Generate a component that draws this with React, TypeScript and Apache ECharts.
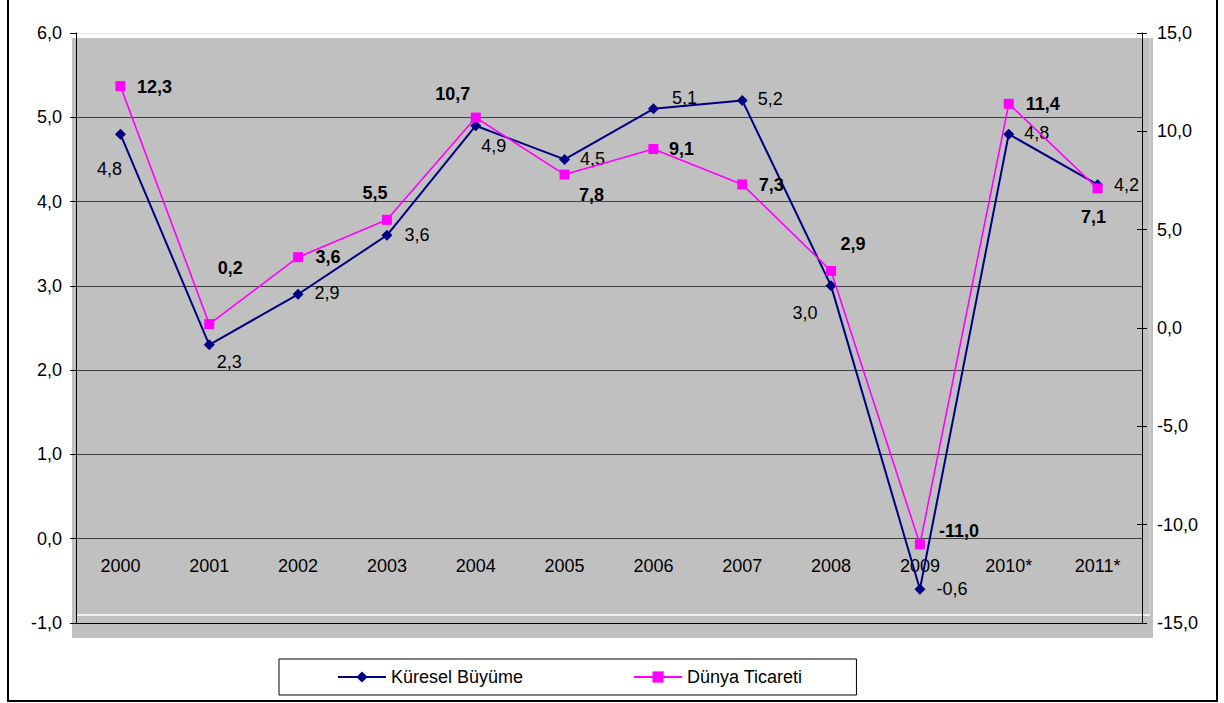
import React, { useEffect, useRef } from "react";
import * as echarts from "echarts";

const categories = ["2000", "2001", "2002", "2003", "2004", "2005", "2006", "2007", "2008", "2009", "2010*", "2011*"];
const kureselBuyume = [4.8, 2.3, 2.9, 3.6, 4.9, 4.5, 5.1, 5.2, 3.0, -0.6, 4.8, 4.2];
const dunyaTicareti = [12.3, 0.2, 3.6, 5.5, 10.7, 7.8, 9.1, 7.3, 2.9, -11.0, 11.4, 7.1];
const seriesNames = ["Küresel Büyüme", "Dünya Ticareti"];
const leftAxisRange = [-1, 6, 1];
const rightAxisRange = [-15, 15, 5];

// label placement (pixel offsets from the marker centre)
const kureselLabelOffsets = [[-11, 35], [20, 17], [29, -1], [30, 0], [18, 20], [28, 0], [31, -11], [28, -1], [-26, 27], [32, 0], [28, -1], [29, 0]];
const dunyaLabelOffsets = [[34, 1], [21, -56], [30, 0], [-12, -27], [-23, -24], [27, 20], [28, 0], [29, 1], [22, -27], [39, -13], [34, 0], [-4, 29]];

const FONT = "'Liberation Sans', Arial, sans-serif";
const fmt = (v: number) => v.toFixed(1).replace(".", ",");

const GRID_TOP = 33;
const GRID_BOTTOM = 80;
const CHART_H = 703;

export default function App() {
  const ref = useRef<HTMLDivElement>(null);
  useEffect(() => {
    if (!ref.current) return;
    const chart = echarts.init(ref.current, undefined, { renderer: "svg" });
    const gridColors = ["#000000", "#404040", "#404040", "#404040", "#404040", "#404040", "#404040", "#e6e6e6"];
    // place the category axis at the zero line of the left axis
    const plotH = CHART_H - GRID_TOP - GRID_BOTTOM;
    const zeroOffset = -((0 - leftAxisRange[0]) / (leftAxisRange[1] - leftAxisRange[0])) * plotH;
    const option: any = {
      animation: false,
      backgroundColor: "#ffffff",
      textStyle: { fontFamily: FONT },
      grid: { left: 76, right: 82, top: GRID_TOP, bottom: GRID_BOTTOM, containLabel: false },
      graphic: [
        { type: "rect", z: -100, silent: true, shape: { x: 72, y: 38, width: 1081, height: 600 }, style: { fill: "#C0C0C0" } },
        { type: "line", z: -50, silent: true, shape: { x1: 76, y1: 615, x2: 1150, y2: 615 }, style: { stroke: "#ffffff", lineWidth: 1.5 } },
        { type: "line", z: -50, silent: true, shape: { x1: 1150, y1: 38, x2: 1150, y2: 615 }, style: { stroke: "#dadada", lineWidth: 1 } },
        { type: "rect", z: 100, silent: true, shape: { x: 8, y: -4, width: 1209, height: 705 }, style: { fill: "none", stroke: "#000000", lineWidth: 2 } },
      ],
      legend: {
        left: 279,
        top: 659,
        orient: "horizontal",
        data: seriesNames,
        borderColor: "#000000",
        borderWidth: 1,
        padding: [9, 54, 9, 58],
        itemGap: 110,
        itemWidth: 48,
        itemHeight: 14,
        textStyle: { fontFamily: FONT, fontSize: 18, color: "#000000" },
      },
      xAxis: {
        type: "category",
        data: categories,
        boundaryGap: true,
        position: "bottom",
        offset: zeroOffset,
        axisLine: { show: false, onZero: false },
        axisTick: { show: false },
        axisLabel: { color: "#000000", fontSize: 18, fontFamily: FONT, margin: 18 },
        splitLine: { show: false },
      },
      yAxis: [
        {
          type: "value",
          position: "left",
          min: leftAxisRange[0],
          max: leftAxisRange[1],
          interval: leftAxisRange[2],
          axisLine: { show: true, onZero: false, lineStyle: { color: "#000000", width: 1 } },
          axisTick: { show: true, inside: false, length: 6, lineStyle: { color: "#000000" } },
          axisLabel: { color: "#000000", fontSize: 18, fontFamily: FONT, margin: 14, formatter: (v: number) => fmt(v) },
          splitLine: { show: true, lineStyle: { color: gridColors, width: 1 } },
        },
        {
          type: "value",
          position: "right",
          min: rightAxisRange[0],
          max: rightAxisRange[1],
          interval: rightAxisRange[2],
          axisLine: { show: true, onZero: false, lineStyle: { color: "#000000", width: 1 } },
          axisTick: { show: true, inside: false, length: 5, lineStyle: { color: "#000000" } },
          axisLabel: { color: "#000000", fontSize: 18, fontFamily: FONT, margin: 15, formatter: (v: number) => fmt(v) },
          splitLine: { show: false },
        },
        {
          type: "value",
          position: "right",
          min: rightAxisRange[0],
          max: rightAxisRange[1],
          interval: rightAxisRange[2],
          axisLine: { show: false, onZero: false },
          axisTick: { show: true, inside: true, length: 5, lineStyle: { color: "#000000" } },
          axisLabel: { show: false },
          splitLine: { show: false },
        },
      ],
      series: [
        {
          name: seriesNames[0],
          type: "line",
          yAxisIndex: 0,
          symbol: "diamond",
          symbolSize: 11,
          itemStyle: { color: "#000080" },
          lineStyle: { color: "#000080", width: 2 },
          data: kureselBuyume.map((v, i) => ({
            value: v,
            label: { offset: kureselLabelOffsets[i] },
          })),
          label: {
            show: true,
            position: "inside",
            align: "center",
            verticalAlign: "middle",
            color: "#000000",
            fontSize: 18,
            fontFamily: FONT,
            formatter: (p: any) => fmt(p.value),
          },
          z: 3,
        },
        {
          name: seriesNames[1],
          type: "line",
          yAxisIndex: 1,
          symbol: "rect",
          symbolSize: 10,
          itemStyle: { color: "#FF00FF" },
          lineStyle: { color: "#FF00FF", width: 1.6 },
          data: dunyaTicareti.map((v, i) => ({
            value: v,
            label: { offset: dunyaLabelOffsets[i] },
          })),
          label: {
            show: true,
            position: "inside",
            align: "center",
            verticalAlign: "middle",
            color: "#000000",
            fontSize: 18,
            fontWeight: "bold",
            fontFamily: FONT,
            formatter: (p: any) => fmt(p.value),
          },
          z: 4,
        },
      ],
    };
    chart.setOption(option);
    return () => chart.dispose();
  }, []);
  return <div ref={ref} style={{ position: "absolute", left: 0, top: 0, width: 1224, height: 703 }} />;
}
